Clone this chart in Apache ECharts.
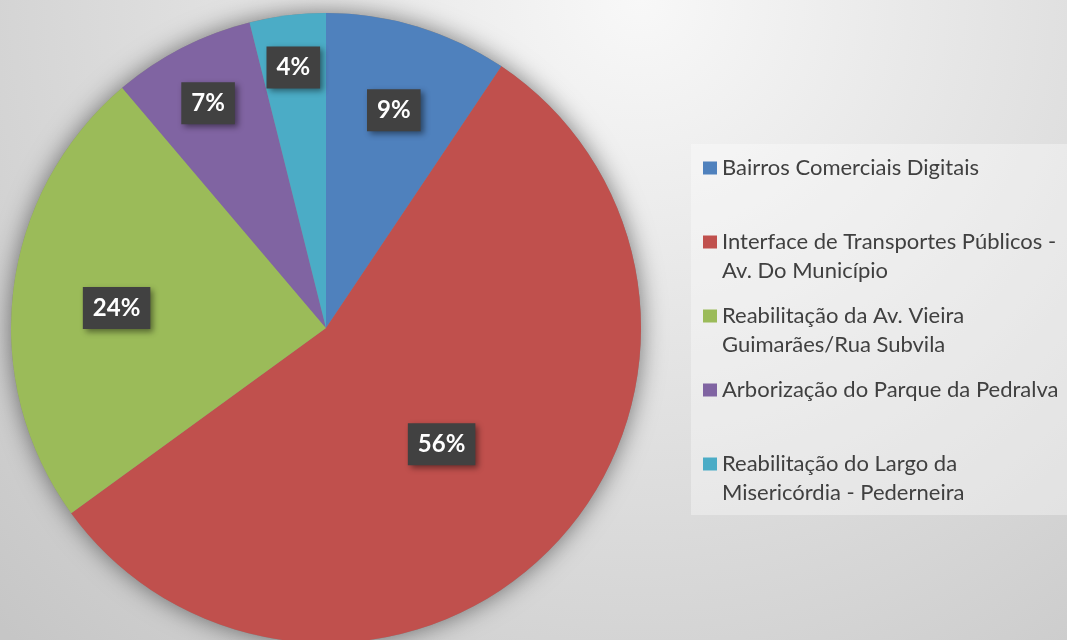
<!DOCTYPE html>
<html>
<head>
<meta charset="utf-8">
<script src="https://cdn.jsdelivr.net/npm/echarts@6/dist/echarts.min.js"></script>
<style>
html,body{margin:0;padding:0;}
#chart{width:1067px;height:640px;}
</style>
</head>
<body>
<div id="chart"></div>
<script>
// ---- data ----
var categories = [
  'Bairros Comerciais Digitais',
  'Interface de Transportes Públicos -\nAv. Do Município',
  'Reabilitação da Av. Vieira\nGuimarães/Rua Subvila',
  'Arborização do Parque da Pedralva',
  'Reabilitação do Largo da\nMisericórdia - Pederneira'
];
var values = [9.4, 55.6, 23.8, 7.3, 3.9];
var colors = ['#4F81BD', '#C0504D', '#9BBB59', '#8064A2', '#4BACC6'];

// ---- layout/style ----
var CX = 326, CY = 328, R = 315;
var labelRadiusFrac = [0.73, 0.5, 0.66, 0.81, 0.84];
var LABEL_DY = 5;

var total = values.reduce(function(a, b){ return a + b; }, 0);
var cum = 0;
var pieData = values.map(function(v, i){
  var mid = (cum + v / 2) / total * 2 * Math.PI;
  cum += v;
  var d = (labelRadiusFrac[i] - 0.5) * R;
  return {
    name: categories[i],
    value: v,
    itemStyle: { color: colors[i] },
    label: { offset: [d * Math.sin(mid), -d * Math.cos(mid) + LABEL_DY] }
  };
});

var rich = {
  t: { fontFamily: 'Lato', fontSize: 22, color: '#404040', lineHeight: 29 },
  g: { width: 5 },
  ind: { width: 19 }
};
colors.forEach(function(c, i){
  rich['m' + i] = { width: 14, height: 13, backgroundColor: c };
});

var chart = echarts.init(document.getElementById('chart'), null, { renderer: 'canvas' });
chart.setOption({
  animation: false,
  backgroundColor: {
    type: 'radial', x: 0.6, y: 0.0, r: 1.4,
    colorStops: [{ offset: 0, color: '#f8f8f8' }, { offset: 1, color: '#c6c6c6' }]
  },
  legend: {
    orient: 'vertical',
    left: 691, top: 144,
    padding: [13, 40, 11, 7],
    itemWidth: 0, itemHeight: 0,
    itemGap: 23,
    backgroundColor: 'rgba(255,255,255,0.35)',
    data: categories,
    formatter: function(name){
      var i = categories.indexOf(name);
      var parts = name.split('\n');
      var s = '{m' + i + '|}{g|}{t|' + parts[0] + '}\n';
      s += '{ind|}{t|' + (parts[1] || ' ') + '}';
      return s;
    },
    textStyle: { rich: rich }
  },
  series: [
    {
      type: 'pie', silent: true, z: 1,
      center: [CX, CY], radius: R,
      label: { show: false }, labelLine: { show: false },
      itemStyle: { color: '#888', shadowBlur: 24, shadowColor: 'rgba(0,0,0,0.5)' },
      data: [{ value: 1, name: '_bg' }]
    },
    {
      type: 'pie', z: 2,
      center: [CX, CY], radius: R,
      startAngle: 90, clockwise: true,
      percentPrecision: 0,
      itemStyle: { borderWidth: 0 },
      label: {
        show: true,
        position: 'inside',
        formatter: '{d}%',
        fontFamily: 'Lato', fontWeight: 'bold', fontSize: 24,
        color: '#ffffff',
        lineHeight: 24,
        backgroundColor: '#414141',
        padding: [9, 10, 9, 10],
        shadowBlur: 6, shadowOffsetX: 3, shadowOffsetY: 3,
        shadowColor: 'rgba(0,0,0,0.45)'
      },
      labelLine: { show: false },
      data: pieData
    }
  ]
});
</script>
</body>
</html>
